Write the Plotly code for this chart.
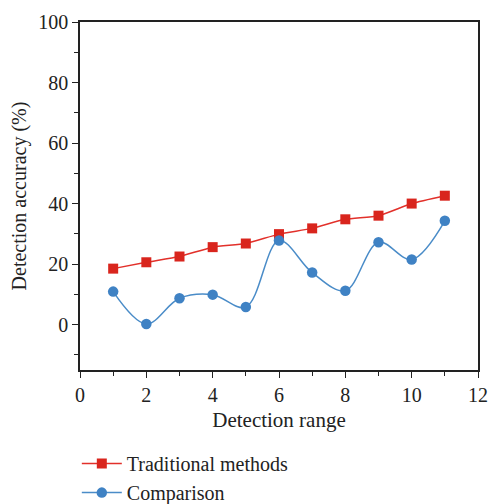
import plotly.graph_objects as go

x_vals = [1, 2, 3, 4, 5, 6, 7, 8, 9, 10, 11]
traditional = [18.5, 20.6, 22.5, 25.6, 26.8, 29.9, 31.8, 34.8, 36.0, 40.0, 42.6]
comparison = [10.9, 0.2, 8.7, 9.9, 5.8, 27.8, 17.2, 11.2, 27.2, 21.5, 34.3]

x_ticks = [0, 2, 4, 6, 8, 10, 12]
y_ticks = [0, 20, 40, 60, 80, 100]

font_family = "Liberation Serif"

fig = go.Figure()
fig.add_trace(go.Scatter(
    x=x_vals, y=traditional, name="Traditional methods",
    mode="lines+markers",
    line=dict(color="#e2302a", width=1.5, shape="spline", smoothing=0.6),
    marker=dict(symbol="square", size=10, color="#d9251d"),
))
fig.add_trace(go.Scatter(
    x=x_vals, y=comparison, name="Comparison",
    mode="lines+markers",
    line=dict(color="#4a8cc8", width=1.5, shape="spline", smoothing=1.0),
    marker=dict(symbol="circle", size=10.5, color="#3f82c4"),
))

axis_common = dict(
    showgrid=False, zeroline=False, automargin=False,
    showline=True, linecolor="#222", linewidth=1.5, mirror=True,
    ticks="outside", ticklen=6, tickwidth=1.3, tickcolor="#222",
    tickfont=dict(family=font_family, size=20, color="#222"),
)

fig.update_xaxes(
    range=[0, 12], tickvals=x_ticks,
    minor=dict(dtick=1, ticklen=4, tickwidth=1.2, tickcolor="#222", ticks="outside"),
    title=dict(text="Detection range", font=dict(family=font_family, size=21, color="#222"), standoff=8),
    **axis_common,
)
fig.update_yaxes(
    range=[-15, 100], tickvals=y_ticks,
    minor=dict(dtick=10, tick0=0, ticklen=4, tickwidth=1.2, tickcolor="#222", ticks="outside"),
    title=dict(text="Detection accuracy (%)", font=dict(family=font_family, size=20, color="#222"), standoff=6),
    **axis_common,
)

fig.update_layout(
    width=491, height=504,
    margin=dict(l=80, r=13, t=22, b=134, autoexpand=False),
    plot_bgcolor="white", paper_bgcolor="white",
    font=dict(family=font_family, color="#222"),
    legend=dict(
        x=-0.008, y=-0.213, xanchor="left", yanchor="top",
        orientation="v",
        font=dict(family=font_family, size=20, color="#222"),
        tracegroupgap=0, itemwidth=40,
        bgcolor="rgba(0,0,0,0)",
    ),
)

fig.write_html("out.html")
